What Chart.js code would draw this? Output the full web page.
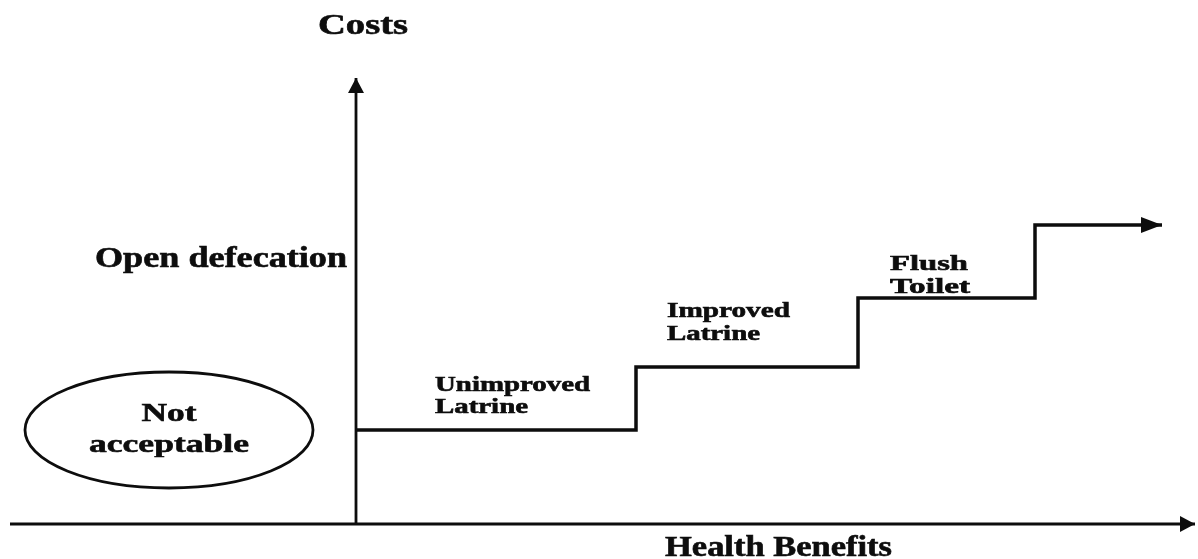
<!DOCTYPE html>
<html>
<head>
<meta charset="utf-8">
<script src="https://cdn.jsdelivr.net/npm/chart.js@4/dist/chart.umd.min.js"></script>
<style>
  html, body { margin: 0; padding: 0; background: #ffffff; }
  #wrap { width: 1198px; height: 559px; position: relative; }
</style>
</head>
<body>
<div id="wrap"><canvas id="c" width="1198" height="559"></canvas></div>
<script>
// ---- data (arbitrary units: benefit on x, cost on y) ----
const stepCategories = ['Unimproved Latrine', 'Improved Latrine', 'Flush Toilet'];
const stepBenefit = [0, 280, 502, 679, 806];
const stepCost = [94, 157, 226, 299, 299];
const benefitRange = [-346, 839];
const costRange = [0, 446];
const xAxisTitle = 'Health Benefits';
const yAxisTitle = 'Costs';
const openDefecationLabel = 'Open defecation';
const notAcceptableLines = ['Not', 'acceptable'];

const INK = '#0d0d0d';
const SERIF = '"Liberation Serif", "Times New Roman", "DejaVu Serif", serif';

const stepPoints = stepBenefit.map((x, i) => ({ x: x, y: stepCost[i] }));

// text: [text, dataX, dataY(baseline), targetWidthPx, fontPx, align]
const labels = [
  [yAxisTitle, -38, 490, 90, 29, 'left'],
  [openDefecationLabel, -261, 257, 252, 29, 'left'],
  [notAcceptableLines[0], -187, 103, 55, 26, 'center'],
  [notAcceptableLines[1], -187, 72, 160, 26, 'center'],
  ['Unimproved', 79, 133, 155, 21, 'left'],
  ['Latrine', 79, 111, 93, 21, 'left'],
  ['Improved', 311, 207, 123, 21, 'left'],
  ['Latrine', 311, 184, 93, 21, 'left'],
  ['Flush', 534, 254, 78, 21, 'left'],
  ['Toilet', 534, 231, 80, 21, 'left'],
  [xAxisTitle, 309, -32, 227, 29, 'left']
];
// ellipse: center (data) and radii (data units)
const ellipseSpec = { x: -187, y: 94, rx: 144, ry: 58 };

const decorPlugin = {
  id: 'decor',
  afterDatasetsDraw(chart) {
    const ctx = chart.ctx;
    const xs = chart.scales.x, ys = chart.scales.y;
    // arrowheads
    chart.data.datasets.forEach((ds, di) => {
      if (!ds.arrow) return;
      const pts = chart.getDatasetMeta(di).data;
      const a = pts[pts.length - 2], b = pts[pts.length - 1];
      const dx = b.x - a.x, dy = b.y - a.y;
      const len = Math.hypot(dx, dy);
      const ux = dx / len, uy = dy / len;
      const L = ds.arrow.len, W = ds.arrow.half;
      const bx = b.x - ux * L, by = b.y - uy * L;
      ctx.save();
      ctx.fillStyle = INK;
      ctx.beginPath();
      ctx.moveTo(b.x, b.y);
      ctx.lineTo(bx - uy * W, by + ux * W);
      ctx.lineTo(bx + uy * W, by - ux * W);
      ctx.closePath();
      ctx.fill();
      ctx.restore();
    });
    // ellipse
    const cx = xs.getPixelForValue(ellipseSpec.x);
    const cy = ys.getPixelForValue(ellipseSpec.y);
    const rx = Math.abs(xs.getPixelForValue(ellipseSpec.x + ellipseSpec.rx) - cx);
    const ry = Math.abs(ys.getPixelForValue(ellipseSpec.y + ellipseSpec.ry) - cy);
    ctx.save();
    ctx.strokeStyle = INK;
    ctx.lineWidth = 2.8;
    ctx.beginPath();
    ctx.ellipse(cx, cy, rx, ry, 0, 0, Math.PI * 2);
    ctx.stroke();
    ctx.restore();
    // texts
    labels.forEach(([t, dx, dy, w, size, align]) => {
      const px = xs.getPixelForValue(dx);
      const py = ys.getPixelForValue(dy);
      ctx.save();
      ctx.font = 'bold ' + size + 'px ' + SERIF;
      ctx.fillStyle = INK;
      ctx.strokeStyle = INK;
      ctx.lineWidth = 0.6;
      ctx.textBaseline = 'alphabetic';
      const mw = ctx.measureText(t).width;
      const sx = w / mw;
      ctx.translate(px, py);
      ctx.scale(sx, 1);
      ctx.textAlign = align;
      ctx.fillText(t, 0, 0);
      ctx.strokeText(t, 0, 0);
      ctx.restore();
    });
  }
};

new Chart(document.getElementById('c'), {
  type: 'scatter',
  data: {
    datasets: [
      {
        label: 'Sanitation ladder',
        data: stepPoints,
        showLine: true,
        stepped: true,
        borderColor: INK,
        borderWidth: 3.5,
        pointRadius: 0,
        fill: false,
        clip: false,
        borderCapStyle: 'butt',
        borderJoinStyle: 'miter',
        arrow: { len: 21, half: 8 }
      },
      {
        label: 'x axis',
        data: [{ x: benefitRange[0], y: costRange[0] }, { x: benefitRange[1], y: costRange[0] }],
        showLine: true,
        borderColor: INK,
        borderWidth: 2.8,
        pointRadius: 0,
        clip: false,
        arrow: { len: 15, half: 8 }
      },
      {
        label: 'y axis',
        data: [{ x: 0, y: costRange[0] }, { x: 0, y: costRange[1] }],
        showLine: true,
        borderColor: INK,
        borderWidth: 2.8,
        pointRadius: 0,
        clip: false,
        arrow: { len: 15, half: 8 }
      }
    ]
  },
  options: {
    responsive: false,
    animation: false,
    devicePixelRatio: 1,
    layout: { padding: { left: 10, right: 3, top: 78, bottom: 35 } },
    scales: {
      x: { type: 'linear', min: benefitRange[0], max: benefitRange[1], display: false },
      y: { type: 'linear', min: costRange[0], max: costRange[1], display: false }
    },
    plugins: {
      legend: { display: false },
      tooltip: { enabled: false },
      title: { display: false }
    }
  },
  plugins: [decorPlugin]
});
</script>
</body>
</html>
